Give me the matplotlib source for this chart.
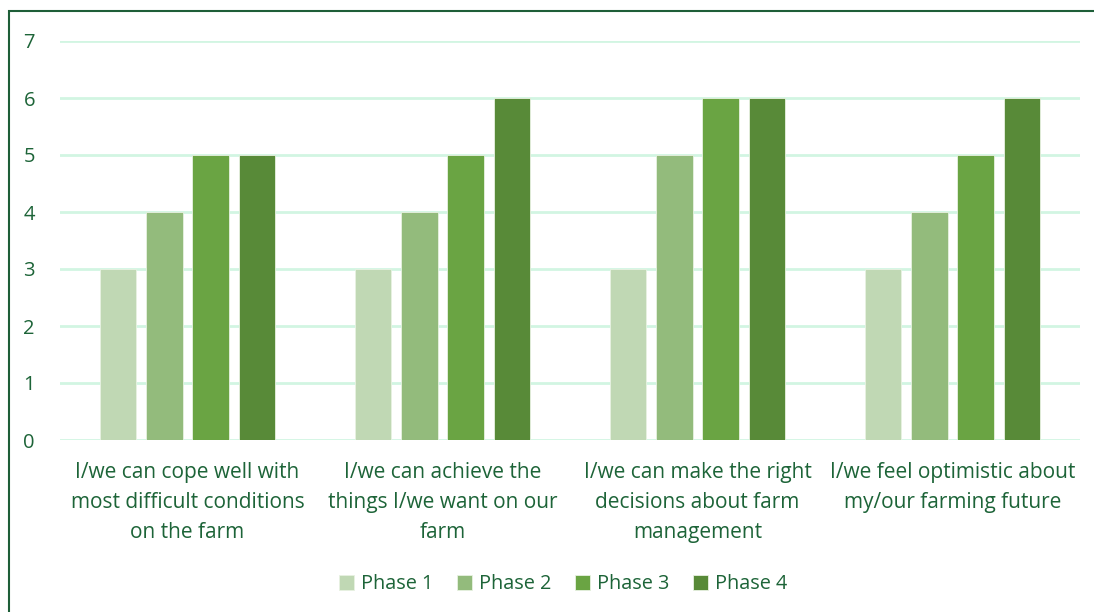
import matplotlib.pyplot as plt
import numpy as np
from matplotlib.patches import Rectangle

categories = [
    "I/we can cope well with\nmost difficult conditions\non the farm",
    "I/we can achieve the\nthings I/we want on our\nfarm",
    "I/we can make the right\ndecisions about farm\nmanagement",
    "I/we feel optimistic about\nmy/our farming future",
]
phases = ["Phase 1", "Phase 2", "Phase 3", "Phase 4"]
phase1 = [3, 3, 3, 3]
phase2 = [4, 4, 5, 4]
phase3 = [5, 5, 6, 5]
phase4 = [5, 6, 6, 6]

colors = ["#c0d8b4", "#93bb7c", "#6aa443", "#588a38"]
text_color = "#1d6438"

plt.rcParams['font.family'] = ['Open Sans', 'DejaVu Sans']

fig = plt.figure(figsize=(10.94, 6.12), dpi=100)
ax = fig.add_axes([60 / 1094, 1 - 440 / 612, 1020 / 1094, 399 / 612])

x = np.arange(len(categories))
width = 0.142
step = 0.181
for i, vals in enumerate([phase1, phase2, phase3, phase4]):
    ax.bar(x + (i - 1.5) * step, vals, width, color=colors[i], label=phases[i],
           edgecolor="#e8f2e2", linewidth=0.6, zorder=3)

ax.set_xlim(-0.5, len(categories) - 0.5)
ax.set_ylim(0, 7)
ax.set_yticks(range(8))
ax.yaxis.grid(True, color="#d2f5e2", linewidth=2, zorder=0)
ax.set_xticks(x)
ax.set_xticklabels(categories, fontsize=15, color=text_color, linespacing=1.55)
ax.tick_params(axis="y", labelsize=14.5, labelcolor=text_color, length=0, pad=18)
ax.tick_params(axis="x", length=0, pad=16)
for s in ax.spines.values():
    s.set_visible(False)

leg = ax.legend(loc="upper center", bbox_to_anchor=(0.493, -0.292), ncol=4, frameon=False,
                fontsize=14.3, handlelength=0.75, handleheight=0.75, handletextpad=0.35,
                columnspacing=1.2)
for t in leg.get_texts():
    t.set_color(text_color)

fig.patches.append(Rectangle((9 / 1094, -0.1), 1.2, 1.1 - 11 / 612,
                             transform=fig.transFigure, fill=False,
                             edgecolor="#1e5e38", linewidth=1.5))

fig.savefig("out.png", dpi=100)
